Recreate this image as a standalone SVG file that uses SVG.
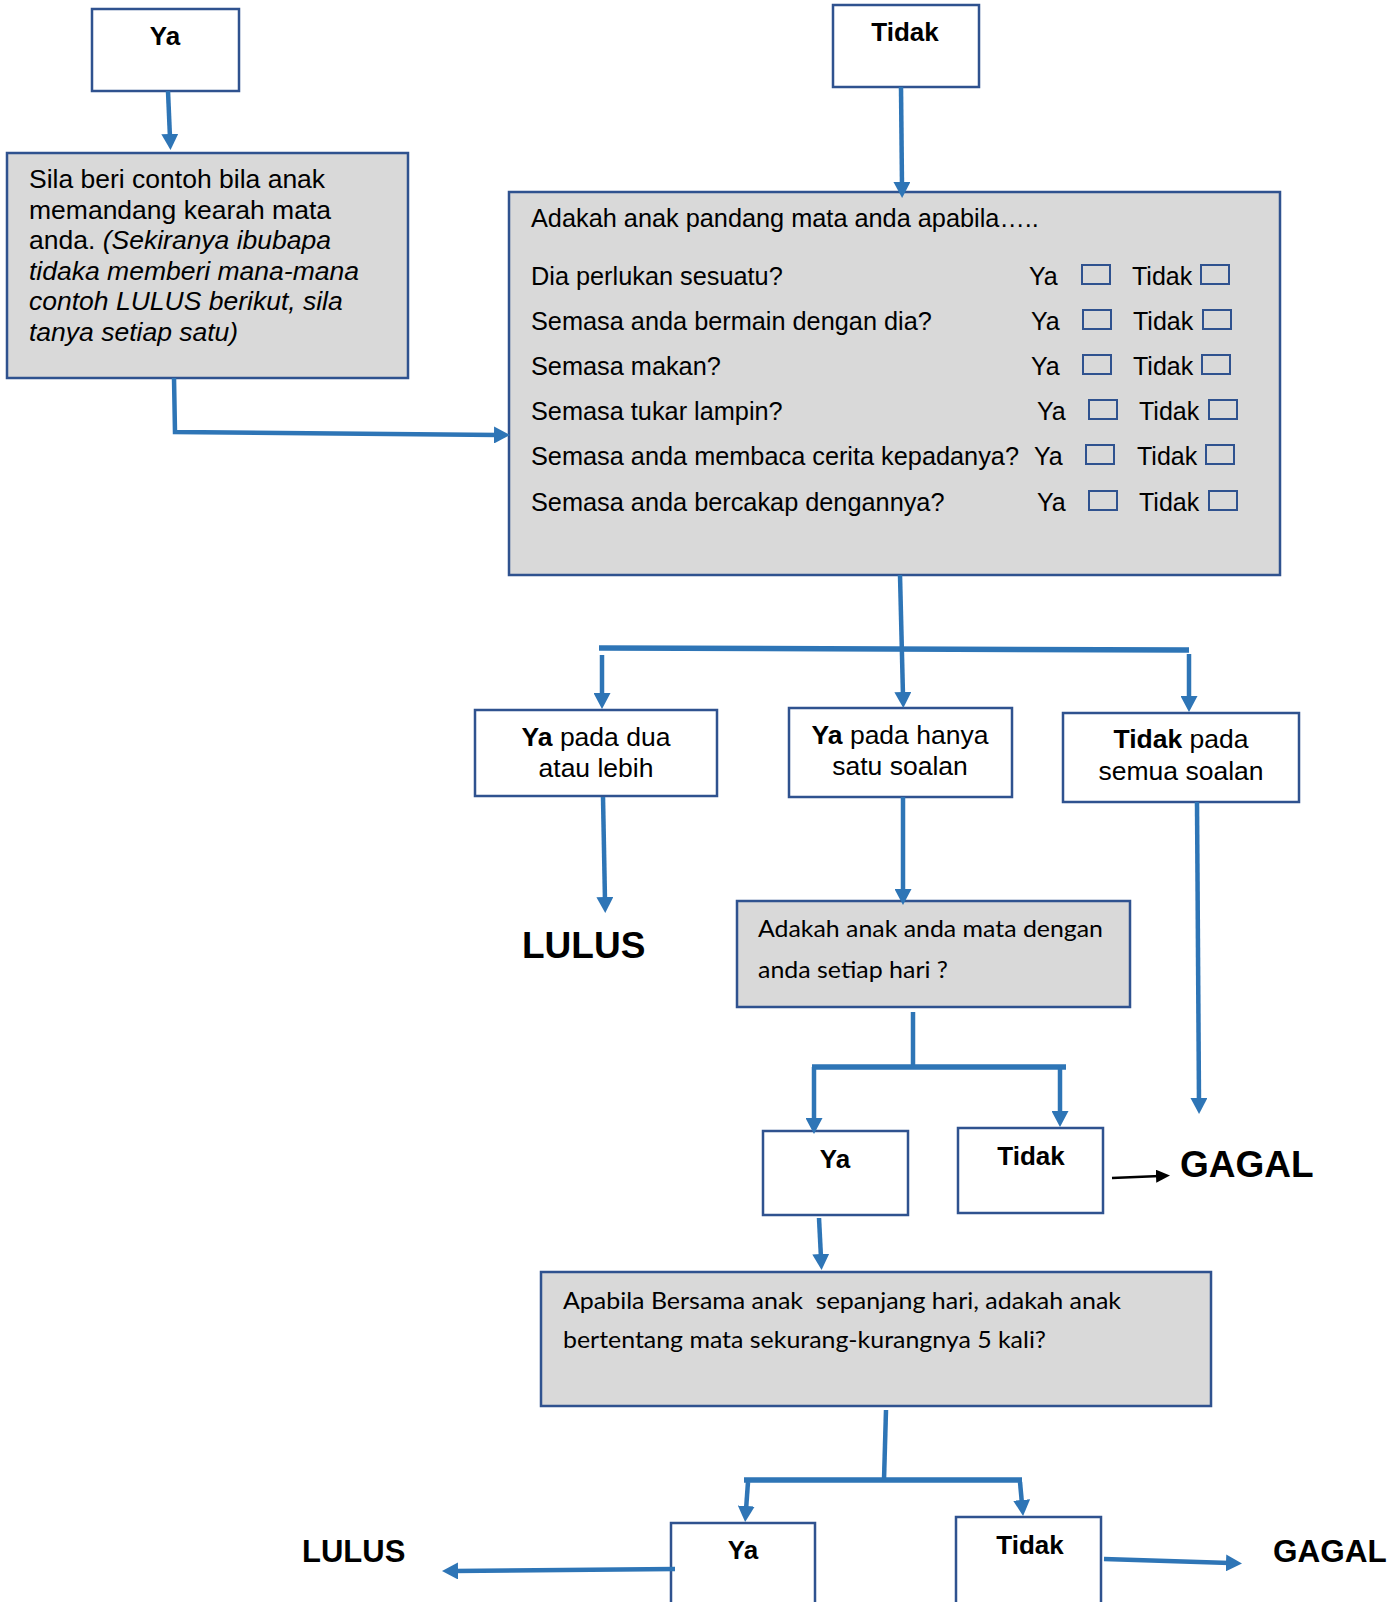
<svg xmlns="http://www.w3.org/2000/svg" width="1400" height="1602" viewBox="0 0 1400 1602">
  <style>
    .box { fill: #ffffff; stroke: #2F528F; stroke-width: 2.5; }
    .gbox { fill: #D9D9D9; stroke: #2F528F; stroke-width: 2.5; }
    .chk { fill: none; stroke: #2F528F; stroke-width: 2; }
    .t { font-family: "Liberation Sans", Arial, sans-serif; fill: #000; }
    .c { font-family: "Lato", "Open Sans", sans-serif; fill: #000; }
    .b { font-weight: bold; }
    .i { font-style: italic; }
    .mid { text-anchor: middle; }
    .ln { fill: none; stroke: #2E75B6; stroke-width: 4.5; }
    .bus { fill: none; stroke: #2E75B6; stroke-width: 5.5; }
    .blk { fill: none; stroke: #000; stroke-width: 2.5; }
  </style>
  <defs>
    <marker id="ah" markerUnits="userSpaceOnUse" markerWidth="16" markerHeight="17" viewBox="0 0 16 17" refX="4" refY="8.5" orient="auto">
      <path d="M0,0 L16,8.5 L0,17 z" fill="#2E75B6"/>
    </marker>
    <marker id="ahk" markerUnits="userSpaceOnUse" markerWidth="14" markerHeight="13" viewBox="0 0 14 13" refX="4" refY="6.5" orient="auto">
      <path d="M0,0 L14,6.5 L0,13 z" fill="#000"/>
    </marker>
  </defs>

  <rect width="1400" height="1602" fill="#ffffff"/>

  <!-- top "Ya" entry -->
  <g id="top-ya">
    <rect class="box" x="92" y="9" width="147" height="82"/>
    <text class="t b mid" x="165" y="45" font-size="26">Ya</text>
  </g>

  <!-- top "Tidak" entry -->
  <g id="top-tidak">
    <rect class="box" x="833" y="5" width="146" height="82"/>
    <text class="t b mid" x="905" y="41" font-size="26">Tidak</text>
  </g>

  <!-- example prompt -->
  <g id="contoh">
    <rect class="gbox" x="7" y="153" width="401" height="225"/>
    <text class="t" x="29" font-size="26.5">
      <tspan x="29" y="188">Sila beri contoh bila anak</tspan>
      <tspan x="29" y="218.5">memandang kearah mata</tspan>
      <tspan x="29" y="249">anda. <tspan class="i">(Sekiranya ibubapa</tspan></tspan>
      <tspan class="i" x="29" y="279.5">tidaka memberi mana-mana</tspan>
      <tspan class="i" x="29" y="310">contoh LULUS berikut, sila</tspan>
      <tspan class="i" x="29" y="340.5">tanya setiap satu)</tspan>
    </text>
  </g>

  <!-- question list -->
  <g id="soalan">
    <rect class="gbox" x="509" y="192" width="771" height="383"/>
    <text class="t" font-size="25.3">
      <tspan x="531" y="227">Adakah anak pandang mata anda apabila…..</tspan>
      <tspan x="531" y="285">Dia perlukan sesuatu?</tspan>
      <tspan x="531" y="330">Semasa anda bermain dengan dia?</tspan>
      <tspan x="531" y="375">Semasa makan?</tspan>
      <tspan x="531" y="420">Semasa tukar lampin?</tspan>
      <tspan x="531" y="465">Semasa anda membaca cerita kepadanya?</tspan>
      <tspan x="531" y="511">Semasa anda bercakap dengannya?</tspan>
    </text>
    <text class="t" font-size="25">
      <tspan x="1029" y="285">Ya</tspan>
      <tspan x="1031" y="330">Ya</tspan>
      <tspan x="1031" y="375">Ya</tspan>
      <tspan x="1037" y="420">Ya</tspan>
      <tspan x="1034" y="465">Ya</tspan>
      <tspan x="1037" y="511">Ya</tspan>
      <tspan x="1132" y="285">Tidak</tspan>
      <tspan x="1133" y="330">Tidak</tspan>
      <tspan x="1133" y="375">Tidak</tspan>
      <tspan x="1139" y="420">Tidak</tspan>
      <tspan x="1137" y="465">Tidak</tspan>
      <tspan x="1139" y="511">Tidak</tspan>
    </text>
    <rect class="chk" x="1082" y="265" width="28" height="19"/>
    <rect class="chk" x="1201" y="265" width="28" height="19"/>
    <rect class="chk" x="1083" y="310" width="28" height="19"/>
    <rect class="chk" x="1203" y="310" width="28" height="19"/>
    <rect class="chk" x="1083" y="355" width="28" height="19"/>
    <rect class="chk" x="1202" y="355" width="28" height="19"/>
    <rect class="chk" x="1089" y="400" width="28" height="19"/>
    <rect class="chk" x="1209" y="400" width="28" height="19"/>
    <rect class="chk" x="1086" y="445" width="28" height="19"/>
    <rect class="chk" x="1206" y="445" width="28" height="19"/>
    <rect class="chk" x="1089" y="491" width="28" height="19"/>
    <rect class="chk" x="1209" y="491" width="28" height="19"/>
  </g>

  <!-- outcome branches -->
  <g id="ya-dua">
    <rect class="box" x="475" y="710" width="242" height="86"/>
    <text class="t mid" x="596" y="746" font-size="26.5"><tspan class="b">Ya</tspan> pada dua</text>
    <text class="t mid" x="596" y="777" font-size="26.5">atau lebih</text>
  </g>

  <g id="ya-satu">
    <rect class="box" x="789" y="708" width="223" height="89"/>
    <text class="t mid" x="900" y="744" font-size="26.5"><tspan class="b">Ya</tspan> pada hanya</text>
    <text class="t mid" x="900" y="775" font-size="26.5">satu soalan</text>
  </g>

  <g id="tidak-semua">
    <rect class="box" x="1063" y="713" width="236" height="89"/>
    <text class="t mid" x="1181" y="748" font-size="26.5"><tspan class="b">Tidak</tspan> pada</text>
    <text class="t mid" x="1181" y="780" font-size="26.5">semua soalan</text>
  </g>

  <g id="lulus-1">
    <text class="t b" x="522" y="958" font-size="37">LULUS</text>
  </g>

  <g id="setiap-hari">
    <rect class="gbox" x="737" y="901" width="393" height="106"/>
    <text class="c" x="758" y="937" font-size="23" textLength="345" lengthAdjust="spacingAndGlyphs">Adakah anak anda mata dengan</text>
    <text class="c" x="758" y="978" font-size="23" textLength="190" lengthAdjust="spacingAndGlyphs">anda setiap hari ?</text>
  </g>

  <g id="ya-2">
    <rect class="box" x="763" y="1131" width="145" height="84"/>
    <text class="t b mid" x="835" y="1168" font-size="26">Ya</text>
  </g>

  <g id="tidak-2">
    <rect class="box" x="958" y="1128" width="145" height="85"/>
    <text class="t b mid" x="1031" y="1165" font-size="26">Tidak</text>
  </g>

  <g id="gagal-1">
    <text class="t b" x="1180" y="1177" font-size="37">GAGAL</text>
  </g>

  <g id="bertentang">
    <rect class="gbox" x="541" y="1272" width="670" height="134"/>
    <text class="c" x="563" y="1309" font-size="24" xml:space="preserve" textLength="558" lengthAdjust="spacingAndGlyphs">Apabila Bersama anak  sepanjang hari, adakah anak</text>
    <text class="c" x="563" y="1348" font-size="24" textLength="483" lengthAdjust="spacingAndGlyphs">bertentang mata sekurang-kurangnya 5 kali?</text>
  </g>

  <g id="ya-3">
    <rect class="box" x="671" y="1523" width="144" height="100"/>
    <text class="t b mid" x="743" y="1559" font-size="26">Ya</text>
  </g>

  <g id="tidak-3">
    <rect class="box" x="956" y="1517" width="145" height="100"/>
    <text class="t b mid" x="1030" y="1554" font-size="26">Tidak</text>
  </g>

  <g id="lulus-2">
    <text class="t b" x="302" y="1562" font-size="31">LULUS</text>
  </g>

  <g id="gagal-2">
    <text class="t b" x="1273" y="1562" font-size="31.5">GAGAL</text>
  </g>

  <!-- connectors -->
  <g id="connectors">
    <line class="ln" x1="168" y1="91" x2="170" y2="138" marker-end="url(#ah)"/>
    <line class="ln" x1="901" y1="87" x2="902" y2="186" marker-end="url(#ah)"/>
    <polyline class="ln" points="174,378 175,432 498,435" marker-end="url(#ah)"/>

    <line class="ln" x1="900" y1="575" x2="903" y2="696" marker-end="url(#ah)"/>
    <line class="bus" x1="599" y1="648" x2="1189" y2="650"/>
    <line class="ln" x1="602" y1="655" x2="602" y2="697" marker-end="url(#ah)"/>
    <line class="ln" x1="1189" y1="654" x2="1189" y2="700" marker-end="url(#ah)"/>

    <line class="ln" x1="603" y1="797" x2="605" y2="901" marker-end="url(#ah)"/>
    <line class="ln" x1="903" y1="797" x2="903" y2="893" marker-end="url(#ah)"/>
    <line class="ln" x1="1197" y1="802" x2="1199" y2="1102" marker-end="url(#ah)"/>

    <line class="ln" x1="913" y1="1012" x2="913" y2="1068"/>
    <line class="bus" x1="812" y1="1067" x2="1066" y2="1067"/>
    <line class="ln" x1="814" y1="1067" x2="814" y2="1122" marker-end="url(#ah)"/>
    <line class="ln" x1="1060" y1="1067" x2="1060" y2="1115" marker-end="url(#ah)"/>

    <line class="blk" x1="1112" y1="1178" x2="1160" y2="1176" marker-end="url(#ahk)"/>

    <line class="ln" x1="819" y1="1218" x2="821" y2="1258" marker-end="url(#ah)"/>

    <line class="ln" x1="886" y1="1410" x2="884" y2="1480"/>
    <line class="bus" x1="744" y1="1480" x2="1022" y2="1480"/>
    <line class="ln" x1="748" y1="1482" x2="746" y2="1510" marker-end="url(#ah)"/>
    <line class="ln" x1="1020" y1="1482" x2="1022" y2="1504" marker-end="url(#ah)"/>

    <line class="ln" x1="675" y1="1569" x2="454" y2="1571" marker-end="url(#ah)"/>
    <line class="ln" x1="1104" y1="1559" x2="1230" y2="1563" marker-end="url(#ah)"/>
  </g>
</svg>
